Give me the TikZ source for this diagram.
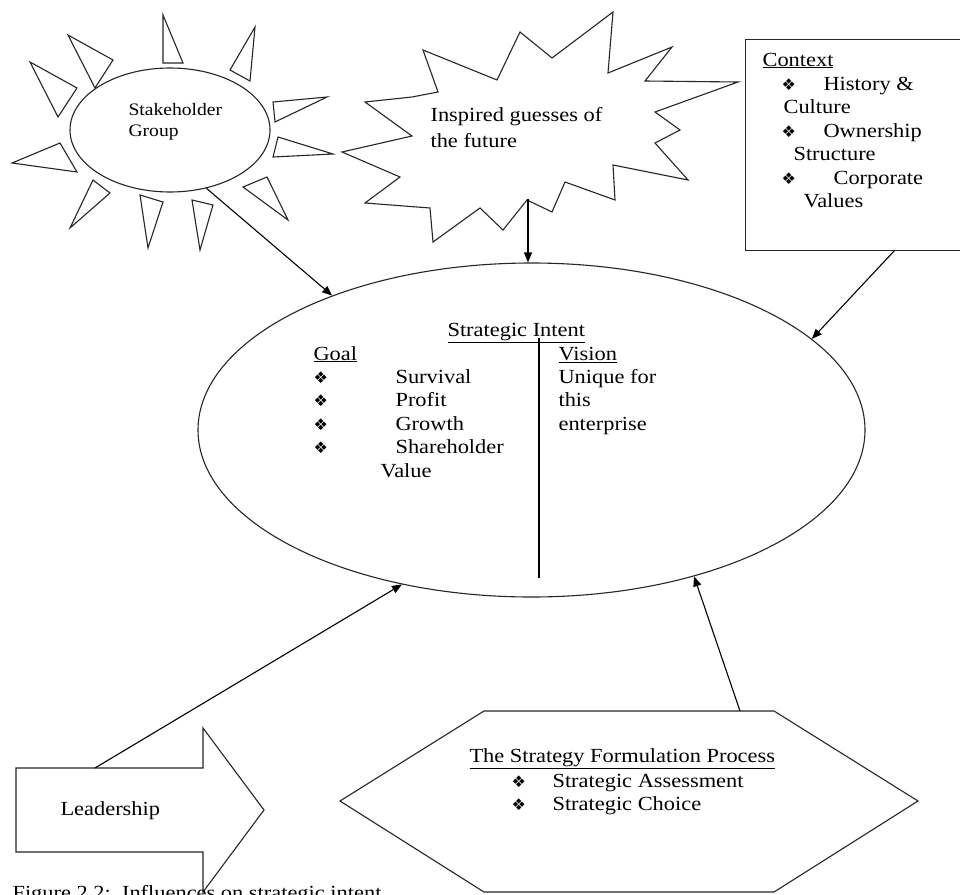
\documentclass[tikz,border=0pt]{standalone}
\usepackage{fontspec}
\setmainfont{Liberation Serif}[FakeStretch=1.12]
\newfontfamily\dejavu{DejaVu Sans}
\usetikzlibrary{shapes.geometric,arrows.meta,calc}
\newcommand{\bulsym}{\raisebox{-0.5pt}{\dejavu\fontsize{16}{16}\selectfont ❖}}
\tikzset{
  txt/.style={inner sep=0pt, anchor=base west, font=\fontsize{20}{23.5}\selectfont},
  smalltxt/.style={inner sep=0pt, anchor=base west, font=\fontsize{17.5}{21}\selectfont},
  bul/.style={inner sep=0pt, anchor=base west},
  arr/.style={-{Triangle[length=10pt,width=8pt]}},
  shapeline/.style={draw=black!85, line width=1.1pt, line join=miter},
}
\begin{document}
\begin{tikzpicture}[x=1pt,y=-1pt,line width=1.1pt]
\clip (0,0) rectangle (960,894);
\fill[white] (0,0) rectangle (960,894);

% ---------- Stakeholder sun ----------
\node[ellipse, shapeline, minimum width=200pt, minimum height=124pt] (sh) at (170,130) {};
\foreach \a/\b/\c in {
  {(163,15)}/{(163,63)}/{(183,63)},
  {(255,27)}/{(230,70)}/{(250,81)},
  {(68,35)}/{(113,60)}/{(95,88)},
  {(30,62)}/{(77,88)}/{(58,117)},
  {(273,102)}/{(327,97)}/{(275,122)},
  {(278,137)}/{(333,154)}/{(273,157)},
  {(12,163)}/{(60,143)}/{(77,172)},
  {(93,180)}/{(110,193)}/{(70,228)},
  {(140,195)}/{(163,202)}/{(148,248)},
  {(192,200)}/{(213,205)}/{(200,250)},
  {(243,187)}/{(267,177)}/{(288,220)}}
  {\draw[shapeline] \a -- \b -- \c -- cycle;}
\node[smalltxt] (shA) at (128,115) {Stakeholder};
\node[smalltxt] (shB) at (128,136) {Group};

% ---------- Explosion ----------
\draw[shapeline] (342,152) -- (412,136) -- (365,102) -- (412,97) -- (438,92) -- (423,50)
  -- (497,80) -- (520,32) -- (552,58) -- (613,12) -- (608,73) -- (672,47) -- (645,81)
  -- (738,82) -- (655,112) -- (680,130) -- (655,143) -- (688,180) -- (613,165)
  -- (615,200) -- (565,182) -- (552,212) -- (527,200) -- (503,230) -- (480,208)
  -- (433,242) -- (430,208) -- (365,203) -- (400,177) -- cycle;
\coordinate (expb) at (528,199);
\node[txt] (insA) at (430,121) {Inspired guesses of};
\node[txt] (insB) at (430,147) {the future};

% ---------- Context box ----------
\node[rectangle, shapeline, minimum width=245pt, minimum height=211pt, anchor=north west, inner sep=0pt] (ctx) at (745,39) {};
\coordinate (ctxa) at (895,250);
\node[txt] (c0) at (762,66) {\underline{Context}};
\node[bul] (cb1) at (781,90) {\bulsym};
\node[txt] (c1) at (823,90) {History \&};
\node[txt] (c2) at (783,113) {Culture};
\node[bul] (cb2) at (781,137) {\bulsym};
\node[txt] (c3) at (823,137) {Ownership};
\node[txt] (c4) at (793,160) {Structure};
\node[bul] (cb3) at (781,184) {\bulsym};
\node[txt] (c5) at (833,184) {Corporate};
\node[txt] (c6) at (803,207) {Values};

% ---------- Central ellipse ----------
\node[ellipse, shapeline, minimum width=667pt, minimum height=334pt] (si) at (531.5,430) {};
\node[txt] (sit) at (447,336) {\underline{Strategic Intent}};
\coordinate (vtop) at (539,338);
\coordinate (vbot) at (539,578);
\draw[line width=1.1pt] (vtop) -- (vbot);
\node[txt] (goal) at (313,360) {\underline{Goal}};
\node[bul] (gb1) at (313,383) {\bulsym};
\node[bul] (gb2) at (313,406) {\bulsym};
\node[bul] (gb3) at (313,430) {\bulsym};
\node[bul] (gb4) at (313,453) {\bulsym};
\node[txt] (g1) at (395,383) {Survival};
\node[txt] (g2) at (395,406) {Profit};
\node[txt] (g3) at (395,430) {Growth};
\node[txt] (g4) at (395,453) {Shareholder};
\node[txt] (g5) at (380,477) {Value};
\node[txt] (vis) at (558,360) {\underline{Vision}};
\node[txt] (v1) at (558,383) {Unique for};
\node[txt] (v2) at (558,406) {this};
\node[txt] (v3) at (558,430) {enterprise};

% ---------- Leadership arrow ----------
\draw[shapeline] (16,768) -- (203,768) -- (203,728) -- (264,810) -- (203,892)
  -- (203,852) -- (16,852) -- cycle;
\coordinate (leada) at (95,768);
\node[txt] (lead) at (60,815) {Leadership};

% ---------- Hexagon ----------
\draw[shapeline] (340,801) -- (484,711) -- (774,711) -- (918,801) -- (774,892)
  -- (484,892) -- cycle;
\coordinate (hexa) at (740,711);
\node[txt] (hx0) at (469,762) {\underline{The Strategy Formulation Process}};
\node[bul] (hb1) at (511,787) {\bulsym};
\node[bul] (hb2) at (511,810) {\bulsym};
\node[txt] (hx1) at (552,787) {Strategic Assessment};
\node[txt] (hx2) at (552,810) {Strategic Choice};

% ---------- Connectors ----------
\draw[arr] (sh.-58) -- (si.146);
\draw[arr] (expb) -- (expb |- si.north);
\draw[arr] (ctxa) -- (si.18);
\draw[arr] (leada) -- (si.230);
\draw[arr] (hexa) -- (si.318);

% ---------- Caption ----------
\node[txt] (cap) at (12,899) {Figure 2.2:\ \ Influences on strategic intent};
\end{tikzpicture}
\end{document}
